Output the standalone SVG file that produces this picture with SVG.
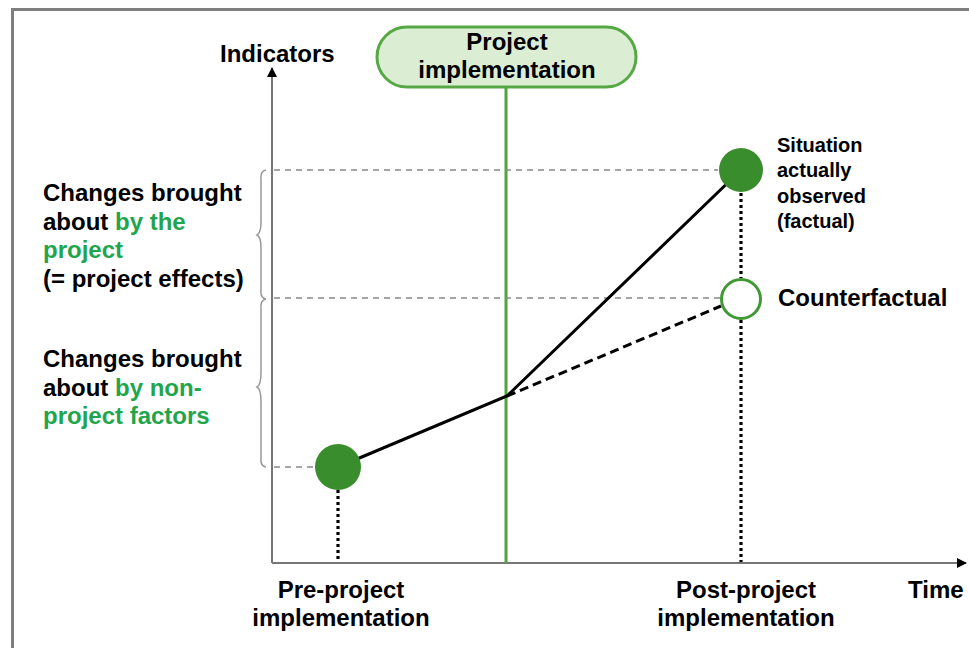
<svg xmlns="http://www.w3.org/2000/svg" width="969" height="648" viewBox="0 0 969 648">
<style>
text{font-family:"Liberation Sans",Arial,sans-serif;font-weight:bold;fill:#000}
.g{fill:#1fa64c}
.big{font-size:24px}
.sm{font-size:20px}
.guide{stroke:#888;stroke-width:1.5;stroke-dasharray:6 5;fill:none}
.dot{stroke:#000;stroke-width:3.2;stroke-dasharray:3 3;fill:none}
.brace{stroke:#999;stroke-width:1.5;fill:none}
</style>
<defs>
<marker id="ah" markerWidth="10" markerHeight="10" refX="9" refY="5" orient="auto" markerUnits="userSpaceOnUse">
<path d="M0,0 L10,5 L0,10 Z" fill="#000"/>
</marker>
</defs>
<rect width="969" height="648" fill="#fff"/>
<g id="frame">
<line x1="12.5" y1="9.5" x2="969" y2="9.5" stroke="#7f7f7f" stroke-width="3"/>
<line x1="12.5" y1="8" x2="12.5" y2="648" stroke="#7f7f7f" stroke-width="3"/>
</g>
<g id="connectors">
<line x1="272" y1="563" x2="272" y2="68" stroke="#777" stroke-width="2" marker-end="url(#ah)"/>
<line x1="272" y1="563" x2="966" y2="563" stroke="#777" stroke-width="2" marker-end="url(#ah)"/>
<line x1="506" y1="87" x2="506" y2="563" stroke="#4ea63b" stroke-width="3"/>
<line class="guide" x1="274" y1="170" x2="718" y2="170"/>
<line class="guide" x1="274" y1="298" x2="720" y2="298"/>
<line class="guide" x1="274" y1="467" x2="315" y2="467"/>
<line class="dot" x1="338" y1="490" x2="338" y2="562"/>
<line class="dot" x1="741" y1="193" x2="741" y2="278"/>
<line class="dot" x1="741" y1="320" x2="741" y2="562"/>
<path class="brace" d="M266,170 Q260,171 261,180 L261,222 Q261,233 257,235 Q261,237 261,248 L261,290 Q260,298 266,299"/>
<path class="brace" d="M266,299 Q260,300 261,310 L261,372 Q261,385 257,387 Q261,389 261,402 L261,458 Q260,466 266,467"/>
<polyline points="338,467 507,396 741,170" fill="none" stroke="#000" stroke-width="3"/>
<line x1="507" y1="396" x2="721" y2="306" stroke="#000" stroke-width="3" stroke-dasharray="9 5"/>
</g>
<g id="box">
<rect x="377" y="27" width="259" height="60" rx="30" ry="30" fill="#dbeed4" stroke="#56a844" stroke-width="3"/>
<text class="big" x="507" y="50" text-anchor="middle">Project</text>
<text class="big" x="507" y="78" text-anchor="middle">implementation</text>
</g>
<g id="pre">
<circle cx="338" cy="467" r="23" fill="#3a8d2c"/>
</g>
<g id="factual">
<circle cx="741" cy="170" r="22" fill="#3a8d2c"/>
</g>
<g id="counterfactual">
<circle cx="741" cy="299" r="19.5" fill="#fff" stroke="#3f9a33" stroke-width="3"/>
</g>
<g id="labels">
<text class="big" x="220" y="62">Indicators</text>
<text class="big" x="43" y="201">Changes brought</text>
<text class="big" x="43" y="230">about <tspan class="g">by the</tspan></text>
<text class="big g" x="43" y="258">project</text>
<text class="big" x="43" y="287">(= project effects)</text>
<text class="big" x="43" y="367">Changes brought</text>
<text class="big" x="43" y="396">about <tspan class="g">by non-</tspan></text>
<text class="big g" x="43" y="424">project factors</text>
<text class="sm" x="777" y="152">Situation</text>
<text class="sm" x="777" y="177">actually</text>
<text class="sm" x="777" y="203">observed</text>
<text class="sm" x="777" y="228">(factual)</text>
<text class="big" x="778" y="306">Counterfactual</text>
<text class="big" x="341" y="598" text-anchor="middle">Pre-project</text>
<text class="big" x="341" y="626" text-anchor="middle">implementation</text>
<text class="big" x="746" y="598" text-anchor="middle">Post-project</text>
<text class="big" x="746" y="626" text-anchor="middle">implementation</text>
<text class="big" x="908" y="598">Time</text>
</g>
</svg>
